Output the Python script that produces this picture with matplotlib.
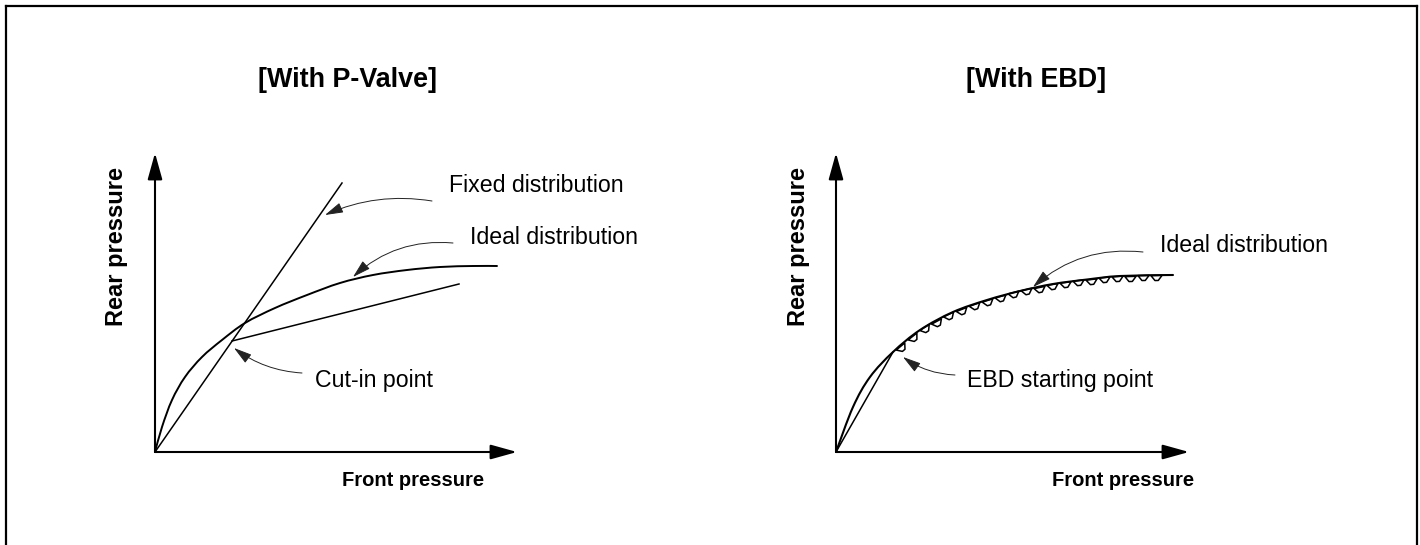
import math
import matplotlib
matplotlib.use("Agg")
import matplotlib.pyplot as plt
from matplotlib.lines import Line2D
from matplotlib.path import Path
from matplotlib.patches import PathPatch
from matplotlib.markers import MarkerStyle
from matplotlib.transforms import Affine2D

plt.rcParams['font.family'] = ['Liberation Sans', 'DejaVu Sans']

# ---------------- data (front pressure, rear pressure; arbitrary units) ----------------
# Left panel: P-valve
pv_ideal_front = [0.0, 0.7, 1.7, 3.0, 4.7, 6.7, 9.0, 12.0, 15.2, 18.5, 21.8, 25.2, 28.5, 31.8, 34.2]
pv_ideal_rear = [0.0, 2.5, 5.2, 7.5, 9.5, 11.2, 12.9, 14.4, 15.7, 16.9, 17.7, 18.2, 18.5, 18.6, 18.6]
pv_fixed_front = [0.0, 18.7]
pv_fixed_rear = [0.0, 26.9]
pv_valve_front = [7.7, 30.4]
pv_valve_rear = [11.1, 16.8]

# Right panel: EBD
ebd_ideal_front = [0.0, 1.7, 3.4, 5.7, 8.4, 11.7, 15.1, 18.4, 21.7, 25.1, 28.4, 33.7]
ebd_ideal_rear = [0.0, 4.5, 7.5, 10.0, 12.2, 14.0, 15.2, 16.1, 16.8, 17.25, 17.6, 17.7]
ebd_fixed_front = [0.0, 5.7]
ebd_fixed_rear = [0.0, 10.0]
ebd_tooth_front = [6.4, 7.6, 8.8, 10.0, 11.2, 12.5, 13.8, 15.1, 16.4, 17.7, 19.0,
                   20.3, 21.6, 22.9, 24.2, 25.5, 26.8, 28.1, 29.4, 30.7, 32.0]
ebd_tooth_rear = [10.62, 11.62, 12.50, 13.15, 13.80, 14.34, 14.80, 15.25, 15.60, 15.96, 16.28,
                  16.55, 16.82, 17.00, 17.16, 17.32, 17.46, 17.58, 17.64, 17.66, 17.69]

titles = ["[With P-Valve]", "[With EBD]"]
x_label = "Front pressure"
y_label = "Rear pressure"

# ---------------- figure ----------------
fig = plt.figure(figsize=(14.2, 5.45), dpi=100)
W, H = 1420.0, 545.0

# outer frame (left, top, right)
for xs, ys in [([5.5, 5.5], [0, 539]), ([5.5, 1416.5], [539, 539]), ([1416.5, 1416.5], [539, 0])]:
    fig.add_artist(Line2D([x / W for x in xs], [y / H for y in ys], color='black', lw=1.6,
                          transform=fig.transFigure))

axL = fig.add_axes([0.0, 0.0, 0.5, 1.0])
axR = fig.add_axes([0.5, 0.0, 0.5, 1.0])
axL.set_xlim(-15.5, 55.5)
axR.set_xlim(-12.6, 58.4)
for ax in (axL, axR):
    ax.set_ylim(-9.3, 45.2)
    ax.axis('off')


def smooth_curve(ax, xs, ys, lw):
    """Draw a smooth (Catmull-Rom / cubic Bezier) curve through the given points."""
    pts = list(zip(xs, ys))
    n = len(pts)
    verts = [pts[0]]
    codes = [Path.MOVETO]
    for i in range(n - 1):
        p0 = pts[i - 1] if i > 0 else pts[i]
        p1 = pts[i]
        p2 = pts[i + 1]
        p3 = pts[i + 2] if i + 2 < n else pts[i + 1]
        c1 = (p1[0] + (p2[0] - p0[0]) / 6.0, p1[1] + (p2[1] - p0[1]) / 6.0)
        c2 = (p2[0] - (p3[0] - p1[0]) / 6.0, p2[1] - (p3[1] - p1[1]) / 6.0)
        verts += [c1, c2, p2]
        codes += [Path.CURVE4] * 3
    ax.add_patch(PathPatch(Path(verts, codes), fill=False, edgecolor='black', lw=lw,
                           capstyle='round', joinstyle='round', zorder=3))


def axes_arrows(ax, xend, yend):
    kw = dict(arrowstyle='-|>,head_length=0.9,head_width=0.25', lw=1.5, color='black',
              shrinkA=0, shrinkB=0, mutation_scale=18)
    ax.annotate('', xy=(xend, 0), xytext=(0, 0), arrowprops=kw)
    ax.annotate('', xy=(0, yend), xytext=(0, 0), arrowprops=kw)


def pointer(ax, text, tail, head, rad, textpos):
    ax.annotate('', xy=head, xytext=tail,
                arrowprops=dict(arrowstyle='-|>,head_length=0.7,head_width=0.2', lw=0.7,
                                color='#222222', connectionstyle=f'arc3,rad={rad}',
                                shrinkA=0, shrinkB=0, mutation_scale=16))
    ax.text(textpos[0], textpos[1], text, fontsize=16.7, ha='left', va='center')


# ---- left panel ----
axes_arrows(axL, 36.2, 29.9)
axL.plot(pv_fixed_front, pv_fixed_rear, color='black', lw=1.1)
axL.plot(pv_valve_front, pv_valve_rear, color='black', lw=1.1)
smooth_curve(axL, pv_ideal_front, pv_ideal_rear, 1.4)
axL.text(19.3, 37.2, titles[0], fontsize=19.4, fontweight='bold', ha='center', va='center')
axL.text(25.8, -2.8, x_label, fontsize=14.5, fontweight='bold', ha='center', va='center')
axL.text(-3.8, 20.6, y_label, fontsize=17, fontweight='bold', ha='center', va='center',
         rotation=90)
pointer(axL, "Fixed distribution", (27.7, 25.1), (17.0, 23.7), 0.15, (29.4, 26.7))
pointer(axL, "Ideal distribution", (29.8, 20.9), (19.8, 17.5), 0.22, (31.5, 21.4))
pointer(axL, "Cut-in point", (14.7, 7.9), (7.9, 10.4), -0.15, (16.0, 7.2))

# ---- right panel ----
axes_arrows(axR, 35.3, 29.9)
axR.plot(ebd_fixed_front, ebd_fixed_rear, color='black', lw=1.1)
tooth = Path([(-1.0, 0.0), (1.0, 0.0), (0.3, -0.9), (-0.3, -0.9), (-1.0, 0.0)],
             [Path.MOVETO, Path.LINETO, Path.LINETO, Path.LINETO, Path.CLOSEPOLY])
nt = len(ebd_tooth_front)
for i in range(nt):
    a = max(i - 1, 0)
    b = min(i + 1, nt - 1)
    ang = math.degrees(math.atan2(ebd_tooth_rear[b] - ebd_tooth_rear[a],
                                  ebd_tooth_front[b] - ebd_tooth_front[a]))
    ms = MarkerStyle(tooth, transform=Affine2D().rotate_deg(ang))
    axR.plot([ebd_tooth_front[i]], [ebd_tooth_rear[i]], linestyle='none', marker=ms,
             markersize=8, markerfacecolor='white', markeredgecolor='black',
             markeredgewidth=1.1, zorder=2)
smooth_curve(axR, ebd_ideal_front, ebd_ideal_rear, 1.5)
axR.text(20.0, 37.2, titles[1], fontsize=19.4, fontweight='bold', ha='center', va='center')
axR.text(28.7, -2.8, x_label, fontsize=14.5, fontweight='bold', ha='center', va='center')
axR.text(-3.8, 20.6, y_label, fontsize=17, fontweight='bold', ha='center', va='center',
         rotation=90)
pointer(axR, "Ideal distribution", (30.7, 20.0), (19.7, 16.5), 0.22, (32.4, 20.7))
pointer(axR, "EBD starting point", (11.9, 7.7), (6.7, 9.5), -0.15, (13.1, 7.2))

fig.savefig("out.png", dpi=100)
